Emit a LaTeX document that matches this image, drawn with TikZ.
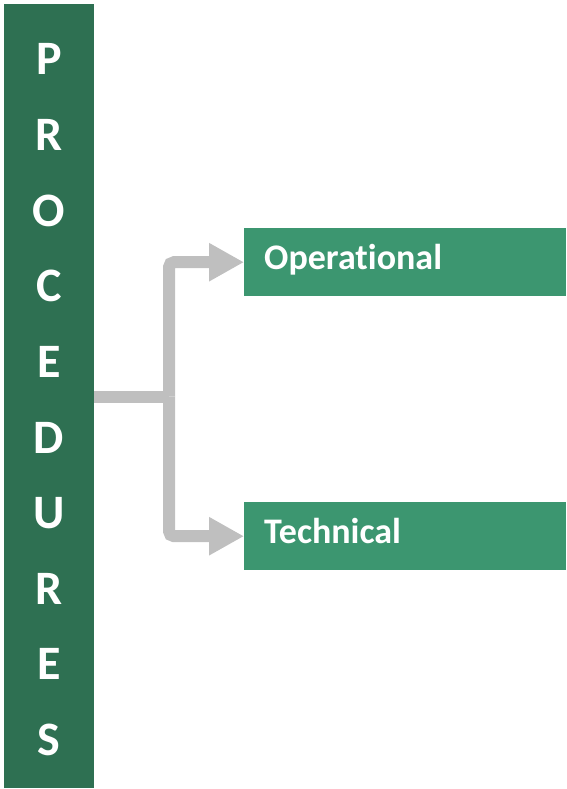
\documentclass[tikz,border=0pt]{standalone}
\usepackage{fontspec}
\setmainfont[Ligatures={NoCommon}]{Carlito}
\usetikzlibrary{arrows.meta}
\definecolor{bardark}{RGB}{46,112,82}
\definecolor{boxgreen}{RGB}{60,150,112}
\definecolor{conngray}{RGB}{191,191,191}
\begin{document}
\begin{tikzpicture}[x=1pt,y=-1pt,
  barbox/.style={fill=bardark, draw=none, minimum width=90pt, minimum height=784pt, inner sep=0pt, anchor=north west},
  letter/.style={text=white, font=\fontsize{48}{48}\selectfont\bfseries, inner sep=0pt, anchor=base},
  itembox/.style={fill=boxgreen, draw=none, anchor=north west, text=white,
    font=\fontsize{36}{36}\selectfont\bfseries, text width=282pt, inner xsep=20pt, inner ysep=0pt,
    text height=41pt, text depth=27pt, align=left},
  conn/.style={draw=conngray, line width=12pt, rounded corners=5pt},
  connarrow/.style={conn, -{Triangle[length=35pt, width=36pt]}}]
\useasboundingbox (0,0) rectangle (567,789);
\node[barbox] (bar) at (4,4) {};
\foreach \ch [count=\i from 0] in {P,R,O,C,E,D,U,R,E,S}
  \node[letter] (l\i) at (49,{75+75.6*\i}) {\ch};
\node[itembox] (op) at (244,228) {Operational};
\node[itembox] (tech) at (244,502) {Technical};
\coordinate (j) at (169,396.5);
\draw[conn] (bar.east |- j) -- (j);
\draw[connarrow] (j) |- (op.west);
\draw[connarrow] (j) |- (tech.west);
\end{tikzpicture}
\end{document}
